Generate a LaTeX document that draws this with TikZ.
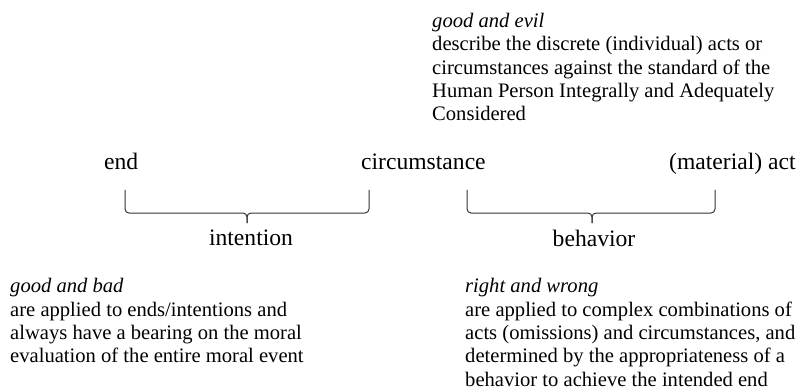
\documentclass[tikz,border=0pt]{standalone}
\usepackage{fontspec}
\setmainfont{Liberation Serif}
\usetikzlibrary{positioning}

\begin{document}
\begin{tikzpicture}[x=1pt,y=-1pt,
  term/.style={font=\fontsize{23.6}{28}\selectfont,inner sep=0pt,anchor=base west},
  note/.style={font=\fontsize{20.6}{23.3}\selectfont,inner sep=0pt,anchor=north west,align=left},
  brace/.style={draw=black!80,line width=1pt,rounded corners=4pt}
]
\useasboundingbox (0,0) rectangle (799,387);
% moral terms
\node[note] (evil) at (432,13) {\textit{good and evil}\\describe the discrete (individual) acts or\\circumstances against the standard of the\\Human Person Integrally and Adequately\\Considered};
\node[term] (end) at (104,170) {end};
\node[term] (circ) at (361,170) {circumstance};
\node[term] (act) at (669,170) {(material) act};
% braces
\coordinate (lbl) at (125,190);
\coordinate (lbr) at (369,190);
\coordinate (ltip) at (247,223);
\coordinate (rbl) at (467,190);
\coordinate (rbr) at (715,190);
\coordinate (rtip) at (592,223);
\draw[brace] (lbl) -- (lbl |- 0,213) -- (ltip |- 0,213) -- (ltip);
\draw[brace] (lbr) -- (lbr |- 0,213) -- (ltip |- 0,213) -- (ltip);
\draw[brace] (rbl) -- (rbl |- 0,213) -- (rtip |- 0,213) -- (rtip);
\draw[brace] (rbr) -- (rbr |- 0,213) -- (rtip |- 0,213) -- (rtip);
\node[term,below=7pt of ltip,xshift=4pt] (intent) {intention};
\node[term,below=7pt of rtip,xshift=2pt] (behav) {behavior};
% lower notes
\node[note] (bad) at (10,278.5) {\textit{good and bad}\\are applied to ends/intentions and\\always have a bearing on the moral\\evaluation of the entire moral event};
\node[note] (wrong) at (465,278.5) {\textit{right and wrong}\\are applied to complex combinations of\\acts (omissions) and circumstances, and\\determined by the appropriateness of a\\behavior to achieve the intended end};
\end{tikzpicture}
\end{document}
